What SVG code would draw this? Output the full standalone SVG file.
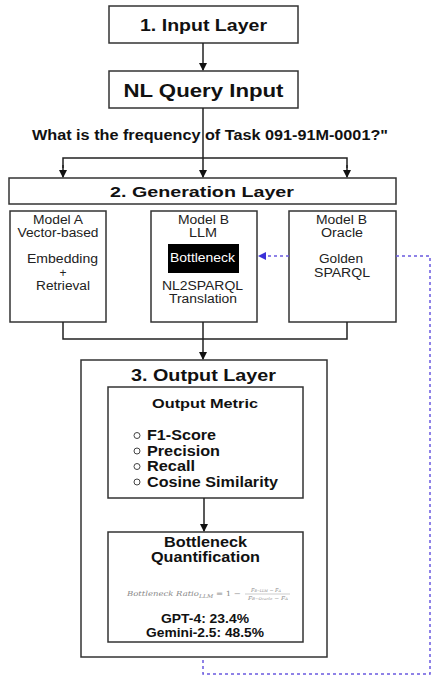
<svg xmlns="http://www.w3.org/2000/svg" width="439" height="682" viewBox="0 0 439 682">
<defs>
<style>
.box{fill:#fff;stroke:#333;stroke-width:1.5}
.b{font-family:"Liberation Sans",Arial,sans-serif;font-weight:bold;fill:#111;text-anchor:middle}
.r{font-family:"Liberation Sans",Arial,sans-serif;fill:#222;text-anchor:middle;font-size:12px}
.ln{fill:none;stroke:#222;stroke-width:1.5}
.dash{fill:none;stroke:#6a5ae0;stroke-width:1.5;stroke-dasharray:3,3}
.bl{font-family:"Liberation Sans",Arial,sans-serif;font-weight:bold;fill:#111;font-size:14px}
.fm{font-family:"DejaVu Serif","Liberation Serif",serif;fill:#888;font-style:italic}
</style>
<marker id="ah" markerWidth="8" markerHeight="8" refX="7" refY="4" orient="auto" markerUnits="userSpaceOnUse">
<path d="M0,0 L8,4 L0,8 z" fill="#111"/>
</marker>
<marker id="ahb" markerWidth="8" markerHeight="8" refX="7" refY="4" orient="auto" markerUnits="userSpaceOnUse">
<path d="M0,0 L8,4 L0,8 z" fill="#3a30d8"/>
</marker>
</defs>
<rect width="439" height="682" fill="#fff"/>
<g id="input-layer">
<rect class="box" x="109" y="6" width="189" height="37"/>
<text class="b" x="203.5" y="31" font-size="16.5" textLength="127" lengthAdjust="spacingAndGlyphs">1. Input Layer</text>
</g>
<g id="nl-query">
<rect class="box" x="109" y="71" width="189" height="37"/>
<text class="b" x="203.5" y="96.5" font-size="18.5" textLength="160" lengthAdjust="spacingAndGlyphs">NL Query Input</text>
</g>
<g id="question">
<text class="b" x="210" y="140" font-size="14" textLength="356" lengthAdjust="spacingAndGlyphs">What is the frequency of Task 091-91M-0001?"</text>
</g>
<g id="generation-layer">
<rect class="box" x="9" y="178" width="387" height="26"/>
<text class="b" x="202" y="197" font-size="15.5" textLength="184" lengthAdjust="spacingAndGlyphs">2. Generation Layer</text>
</g>
<g id="model-a">
<rect class="box" x="10" y="211" width="96" height="111"/>
<text class="r" x="58" y="223.5" textLength="50" lengthAdjust="spacingAndGlyphs">Model A</text>
<text class="r" x="58" y="236.7" textLength="81" lengthAdjust="spacingAndGlyphs">Vector-based</text>
<text class="r" x="62.5" y="263" textLength="71" lengthAdjust="spacingAndGlyphs">Embedding</text>
<text class="r" x="63" y="276.5">+</text>
<text class="r" x="63" y="290" textLength="54" lengthAdjust="spacingAndGlyphs">Retrieval</text>
</g>
<g id="model-b-llm">
<rect class="box" x="151" y="211" width="106" height="111"/>
<text class="r" x="203.5" y="223.5" textLength="51" lengthAdjust="spacingAndGlyphs">Model B</text>
<text class="r" x="203" y="236.7" textLength="28" lengthAdjust="spacingAndGlyphs">LLM</text>
<rect x="168" y="244" width="71" height="29" fill="#000"/>
<text class="r" x="202.5" y="261.7" style="fill:#fff" textLength="65" lengthAdjust="spacingAndGlyphs">Bottleneck</text>
<text class="r" x="202.5" y="290" textLength="81" lengthAdjust="spacingAndGlyphs">NL2SPARQL</text>
<text class="r" x="203" y="303" textLength="68" lengthAdjust="spacingAndGlyphs">Translation</text>
</g>
<g id="model-b-oracle">
<rect class="box" x="289" y="211" width="107" height="111"/>
<text class="r" x="341.5" y="223.5" textLength="51" lengthAdjust="spacingAndGlyphs">Model B</text>
<text class="r" x="342" y="236.7" textLength="42" lengthAdjust="spacingAndGlyphs">Oracle</text>
<text class="r" x="341" y="263" textLength="44" lengthAdjust="spacingAndGlyphs">Golden</text>
<text class="r" x="342" y="276.5" textLength="56" lengthAdjust="spacingAndGlyphs">SPARQL</text>
</g>
<g id="output-layer">
<rect class="box" x="81" y="360" width="246" height="297"/>
<text class="b" x="203.5" y="381" font-size="16.5" textLength="145" lengthAdjust="spacingAndGlyphs">3. Output Layer</text>
</g>
<g id="output-metric">
<rect class="box" x="108" y="387" width="195" height="111"/>
<text class="b" x="205" y="408" font-size="13.5" textLength="106" lengthAdjust="spacingAndGlyphs">Output Metric</text>
<g fill="none" stroke="#444" stroke-width="1">
<circle cx="137" cy="435.5" r="3"/>
<circle cx="137" cy="451" r="3"/>
<circle cx="137" cy="466.5" r="3"/>
<circle cx="137" cy="482" r="3"/>
</g>
<text class="bl" x="147" y="440" textLength="69" lengthAdjust="spacingAndGlyphs">F1-Score</text>
<text class="bl" x="147" y="455.5" textLength="73" lengthAdjust="spacingAndGlyphs">Precision</text>
<text class="bl" x="147" y="471" textLength="48" lengthAdjust="spacingAndGlyphs">Recall</text>
<text class="bl" x="147" y="486.5" textLength="131" lengthAdjust="spacingAndGlyphs">Cosine Similarity</text>
</g>
<g id="bottleneck-quantification">
<rect class="box" x="108" y="532" width="195" height="110"/>
<text class="b" x="205.5" y="546.7" font-size="14" textLength="83" lengthAdjust="spacingAndGlyphs">Bottleneck</text>
<text class="b" x="205.5" y="562" font-size="14" textLength="109" lengthAdjust="spacingAndGlyphs">Quantification</text>
<text class="fm" font-size="7" x="127" y="596" textLength="114" lengthAdjust="spacingAndGlyphs">Bottleneck Ratio<tspan font-size="5" dy="1.5">LLM</tspan><tspan dy="-1.5" font-style="normal"> = 1 − </tspan></text>
<text class="fm" font-size="5" x="266" y="592" text-anchor="middle" textLength="30" lengthAdjust="spacingAndGlyphs">F<tspan font-size="3.5">B−LLM</tspan> − F<tspan font-size="3.5">A</tspan></text>
<line x1="245" y1="594" x2="290" y2="594" stroke="#999" stroke-width="0.5"/>
<text class="fm" font-size="5" x="268" y="599.5" text-anchor="middle" textLength="40" lengthAdjust="spacingAndGlyphs">F<tspan font-size="3.5">B−Oracle</tspan> − F<tspan font-size="3.5">A</tspan></text>
<text class="b" x="205" y="623" font-size="12.5" textLength="88" lengthAdjust="spacingAndGlyphs">GPT-4: 23.4%</text>
<text class="b" x="205" y="636.7" font-size="12.5" textLength="118" lengthAdjust="spacingAndGlyphs">Gemini-2.5: 48.5%</text>
</g>
<g id="connectors">
<line class="ln" x1="203" y1="43" x2="203" y2="70" marker-end="url(#ah)"/>
<line class="ln" x1="203" y1="108" x2="203" y2="177" marker-end="url(#ah)"/>
<polyline class="ln" points="63,168 63,158 347,158 347,168"/>
<line class="ln" x1="63" y1="165" x2="63" y2="177" marker-end="url(#ah)"/>
<line class="ln" x1="347" y1="165" x2="347" y2="177" marker-end="url(#ah)"/>
<polyline class="ln" points="63,322 63,339 347,339 347,322"/>
<line class="ln" x1="203" y1="322" x2="203" y2="359" marker-end="url(#ah)"/>
<line class="ln" x1="204" y1="498" x2="204" y2="531" marker-end="url(#ah)"/>
<line class="dash" x1="289" y1="256" x2="259" y2="256" marker-end="url(#ahb)"/>
<polyline class="dash" points="396,256 430,256 430,674 203,674 203,658"/>
</g>
</svg>
